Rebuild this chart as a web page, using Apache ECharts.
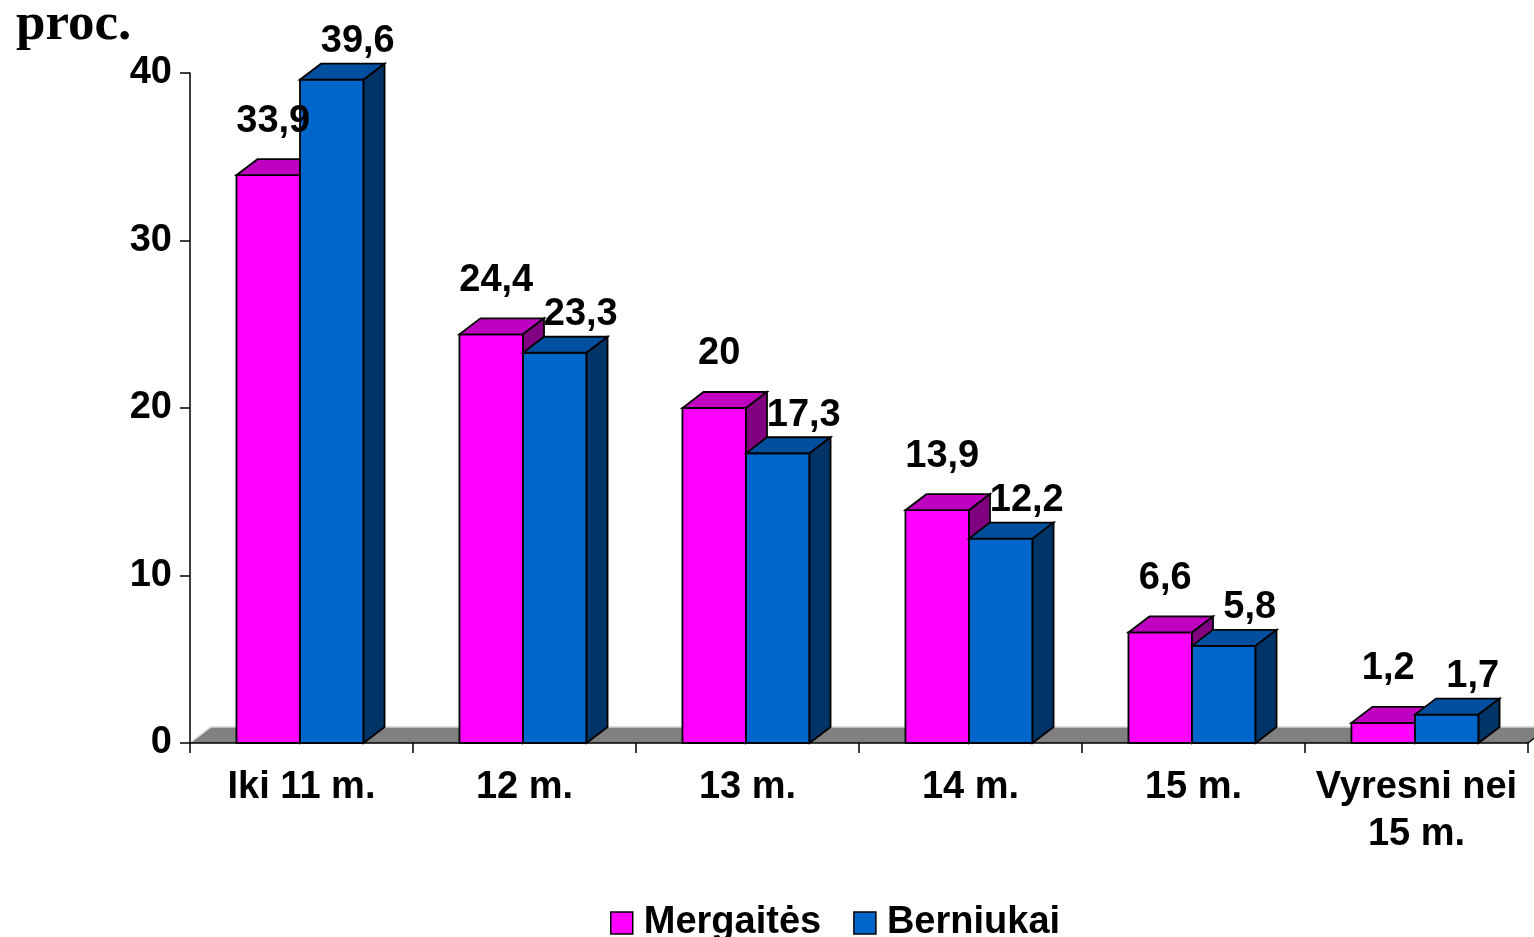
<!DOCTYPE html>
<html>
<head>
<meta charset="utf-8">
<script src="https://cdn.jsdelivr.net/npm/echarts@6/dist/echarts.min.js"></script>
<style>html,body{margin:0;padding:0;background:#fff}#c{width:1534px;height:937px}</style>
</head>
<body>
<div id="c"></div>
<script>
// ---- data ----
const categories = ['Iki 11 m.', '12 m.', '13 m.', '14 m.', '15 m.', 'Vyresni nei\n15 m.'];
const girls = [33.9, 24.4, 20, 13.9, 6.6, 1.2];
const boys = [39.6, 23.3, 17.3, 12.2, 5.8, 1.7];
const seriesNames = ['Mergaitės', 'Berniukai'];
const yTicks = [0, 10, 20, 30, 40];
const unitLabel = 'proc.';

// ---- style ----
const FONT = '"Liberation Sans", Arial, sans-serif';
const FS = 38;
const DX = 21, DY = 16;           // 3D depth offset
const BAR_FRAC = 0.285;           // bar width as fraction of category
const COLORS = [
  {front: '#ff00ff', top: '#c000c0', side: '#800080', labDx: 5, labDy: -38},
  {front: '#0066cc', top: '#00509f', side: '#003366', labDx: 26, labDy: -22}
];
const fmt = v => String(v).replace('.', ',');

function barGeom(sIdx, api) {
  const cat = api.value(0), val = api.value(1);
  const base = api.coord([cat, 0]);
  const top = api.coord([cat, val]);
  const bw = api.size([1, 0])[0] * BAR_FRAC;
  const c = base[0] - 1.5;
  const x0 = sIdx === 0 ? c - bw : c;
  return {x0: x0, x1: x0 + bw, yb: base[1], yt: top[1], val: val};
}

function barRender(sIdx) {
  const col = COLORS[sIdx];
  return function (params, api) {
    const g = barGeom(sIdx, api);
    const st = {stroke: '#000', lineWidth: 1.8, lineJoin: 'miter'};
    return {
      type: 'group',
      children: [
        {type: 'polygon', shape: {points: [[g.x0, g.yb], [g.x1, g.yb], [g.x1, g.yt], [g.x0, g.yt]]},
          style: Object.assign({fill: col.front}, st)},
        {type: 'polygon', shape: {points: [[g.x0, g.yt], [g.x1, g.yt], [g.x1 + DX, g.yt - DY], [g.x0 + DX, g.yt - DY]]},
          style: Object.assign({fill: col.top}, st)},
        {type: 'polygon', shape: {points: [[g.x1, g.yb], [g.x1 + DX, g.yb - DY], [g.x1 + DX, g.yt - DY], [g.x1, g.yt]]},
          style: Object.assign({fill: col.side}, st)}
      ]
    };
  };
}

function labelRender(sIdx) {
  const col = COLORS[sIdx];
  return function (params, api) {
    const g = barGeom(sIdx, api);
    return {
      type: 'text',
      x: (g.x0 + g.x1) / 2 + col.labDx,
      y: g.yt - DY + col.labDy,
      style: {text: fmt(g.val), fill: '#000', fontSize: FS, fontWeight: 'bold', fontFamily: FONT,
        align: 'center', verticalAlign: 'middle'}
    };
  };
}

function floorRender(params, api) {
  const cs = params.coordSys;
  const y0 = api.coord([0, 0])[1];
  const xa = cs.x, xb = cs.x + cs.width;
  return {
    type: 'group',
    children: [
      {type: 'polygon', shape: {points: [[xa, y0], [xa + DX, y0 - DY], [xb + DX, y0 - DY], [xb, y0]]},
        style: {fill: '#808080'}},
      {type: 'polyline', shape: {points: [[xa, y0], [xa + DX, y0 - DY], [xb + DX, y0 - DY]]},
        style: {stroke: '#d4d4d4', lineWidth: 1.5, fill: null}},
      {type: 'line', shape: {x1: xb, y1: y0, x2: xb + DX, y2: y0 - DY},
        style: {stroke: '#000', lineWidth: 1.5}}
    ]
  };
}

const seriesData = [girls, boys].map(arr => arr.map((v, i) => [i, v]));

const chart = echarts.init(document.getElementById('c'), null, {renderer: 'canvas'});
chart.setOption({
  animation: false,
  backgroundColor: '#fff',
  grid: {left: 190, right: 6, top: 73, bottom: 194, containLabel: false},
  graphic: [{
    type: 'text', left: 16, top: -1,
    style: {text: unitLabel, fill: '#000', font: 'bold 53px "Liberation Serif", "Times New Roman", serif'}
  }],
  legend: {
    data: seriesNames.map((n, i) => ({name: n, itemStyle: {color: COLORS[i].front, borderColor: '#000', borderWidth: 1.5}})),
    icon: 'rect', itemWidth: 22, itemHeight: 22, itemGap: 32,
    left: 605, top: 897,
    textStyle: {fontSize: FS, fontWeight: 'bold', fontFamily: FONT, color: '#000', padding: [0, 0, 0, 6], lineHeight: 42}
  },
  xAxis: {
    type: 'category', data: categories, z: 10,
    axisLine: {show: true, lineStyle: {color: '#000', width: 1.5}},
    axisTick: {show: true, length: 10, lineStyle: {color: '#000', width: 1.5}},
    axisLabel: {interval: 0, margin: 21, fontSize: FS, fontWeight: 'bold', fontFamily: FONT, color: '#000', lineHeight: 47},
    splitLine: {show: false}
  },
  yAxis: {
    type: 'value', min: yTicks[0], max: yTicks[yTicks.length - 1], interval: yTicks[1] - yTicks[0], z: 10,
    axisLine: {show: true, lineStyle: {color: '#000', width: 1.5}},
    axisTick: {show: true, length: 10, lineStyle: {color: '#000', width: 1.5}},
    axisLabel: {margin: 18, fontSize: FS, fontWeight: 'bold', fontFamily: FONT, color: '#000'},
    splitLine: {show: false}
  },
  series: [
    {type: 'custom', name: 'floor', data: [[0, 0]], renderItem: floorRender, z: 1, silent: true},
    {type: 'custom', name: seriesNames[0], data: seriesData[0], renderItem: barRender(0), z: 2,
      itemStyle: {color: COLORS[0].front}},
    {type: 'custom', name: seriesNames[1], data: seriesData[1], renderItem: barRender(1), z: 3,
      itemStyle: {color: COLORS[1].front}},
    {type: 'custom', name: 'lab0', data: seriesData[0], renderItem: labelRender(0), z: 5, silent: true},
    {type: 'custom', name: 'lab1', data: seriesData[1], renderItem: labelRender(1), z: 5, silent: true}
  ]
});
</script>
</body>
</html>
